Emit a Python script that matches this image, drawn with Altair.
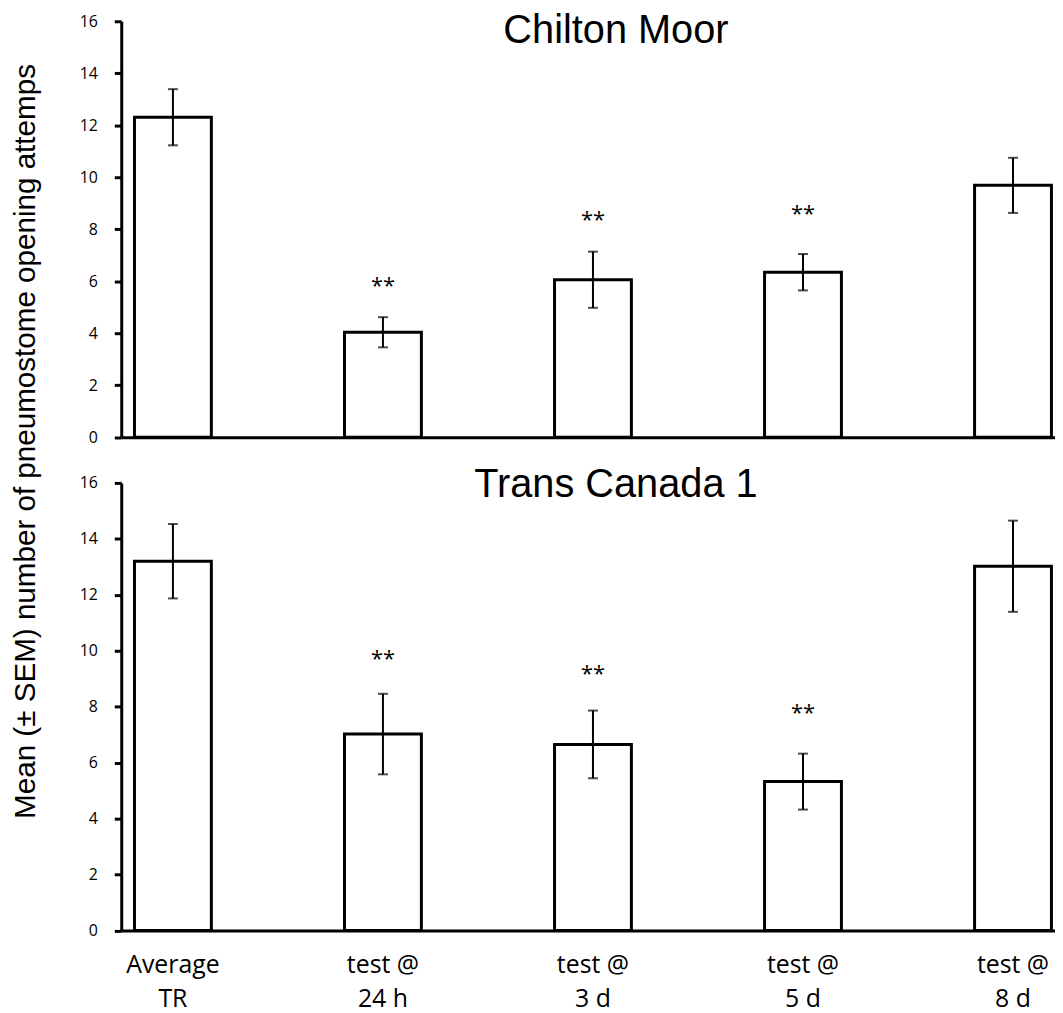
import altair as alt
import pandas as pd

categories = ["Average\nTR", "test @\n24 h", "test @\n3 d", "test @\n5 d", "test @\n8 d"]

panel_titles = ["Chilton Moor", "Trans Canada 1"]

chilton_mean = [12.31, 4.04, 6.06, 6.35, 9.69]
chilton_sem = [1.08, 0.58, 1.08, 0.70, 1.06]
chilton_star = [None, 5.92, 8.46, 8.70, None]

trans_mean = [13.20, 7.02, 6.65, 5.32, 13.02]
trans_sem = [1.33, 1.44, 1.21, 1.00, 1.63]
trans_star = [None, 9.82, 9.29, 7.89, None]

y_ticks = [0, 2, 4, 6, 8, 10, 12, 14, 16]

y_title = "Mean (\u00b1 SEM) number of pneumostome opening attemps"

PLOT_W = 940


def make_df(means, sems, stars):
    return pd.DataFrame({
        "cat": categories,
        "mean": means,
        "lo": [m - s for m, s in zip(means, sems)],
        "hi": [m + s for m, s in zip(means, sems)],
        "star": ["**" if s is not None else "" for s in stars],
        "star_y": [s if s is not None else 0 for s in stars],
    })


x_scale = alt.Scale(domain=categories, paddingInner=0.634, paddingOuter=0.040, align=0.788)
y_scale = alt.Scale(domain=[0, 16], nice=False, zero=True)

YSTYLE = dict(values=y_ticks, ticks=True, tickColor="black", tickWidth=3, tickSize=7,
              labelFont="Open Sans", labelFontSize=16, labelColor="black", labelPadding=17,
              domainColor="black", domainWidth=3, grid=False)


def panel(df, title, height, top, title_y):
    if top:
        x_axis = alt.Axis(labels=False, ticks=False, title=None)
        y_axis = alt.Axis(title=y_title, titleX=-87.7, titleY=422.5, **YSTYLE)
    else:
        x_axis = alt.Axis(labelExpr="split(datum.label, '\\n')", ticks=False, title=None)
        y_axis = alt.Axis(title=None, **YSTYLE)

    def X():
        return alt.X("cat:N", scale=x_scale, axis=x_axis, sort=categories)

    def Y(field):
        return alt.Y(field, scale=y_scale, axis=y_axis)

    base = alt.Chart(df)

    bars = base.mark_bar(fill="white", stroke="black", strokeWidth=3).encode(
        x=X(), y=Y("mean:Q")
    )
    err = base.mark_rule(color="black", strokeWidth=2).encode(
        x=X(), y=Y("lo:Q"), y2="hi:Q"
    )
    cap_lo = base.mark_tick(color="black", thickness=2, size=10, orient="horizontal").encode(
        x=X(), y=Y("lo:Q")
    )
    cap_hi = base.mark_tick(color="black", thickness=2, size=10, orient="horizontal").encode(
        x=X(), y=Y("hi:Q")
    )
    stars = base.mark_text(font="Open Sans", fontSize=22, baseline="alphabetic",
                           dy=10, color="black").encode(
        x=X(), y=Y("star_y:Q"), text="star:N"
    )
    ttl = alt.Chart(pd.DataFrame({"t": [title]})).mark_text(
        font="Liberation Sans", fontSize=40, align="center", baseline="alphabetic",
        color="black"
    ).encode(text="t:N", x=alt.value(498), y=alt.value(title_y))

    return alt.layer(bars, err, cap_lo, cap_hi, stars, ttl).properties(
        width=PLOT_W, height=height
    )


top_chart = panel(make_df(chilton_mean, chilton_sem, chilton_star), panel_titles[0],
                  418.8, True, 22.2)
bottom_chart = panel(make_df(trans_mean, trans_sem, trans_star), panel_titles[1],
                     450.5, False, 14)

chart = alt.vconcat(top_chart, bottom_chart, spacing=45.7, bounds="flush").properties(
    padding={"left": 2, "top": 0, "right": 0, "bottom": 2},
    background="white",
).configure_view(
    stroke=None
).configure_axis(
    grid=False, domainColor="black", domainWidth=3
).configure_axisY(
    titleFont="Liberation Sans", titleFontSize=29.8, titleFontWeight="normal",
    titleColor="black", titleAngle=270, titleBaseline="alphabetic", titleAlign="center",
).configure_axisX(
    labelFont="Open Sans", labelFontSize=25, labelLineHeight=35, labelPadding=22,
    labelColor="black", labelAngle=0, labelBaseline="top",
)

chart.save("out.html", embed_options={"renderer": "svg", "actions": False})
